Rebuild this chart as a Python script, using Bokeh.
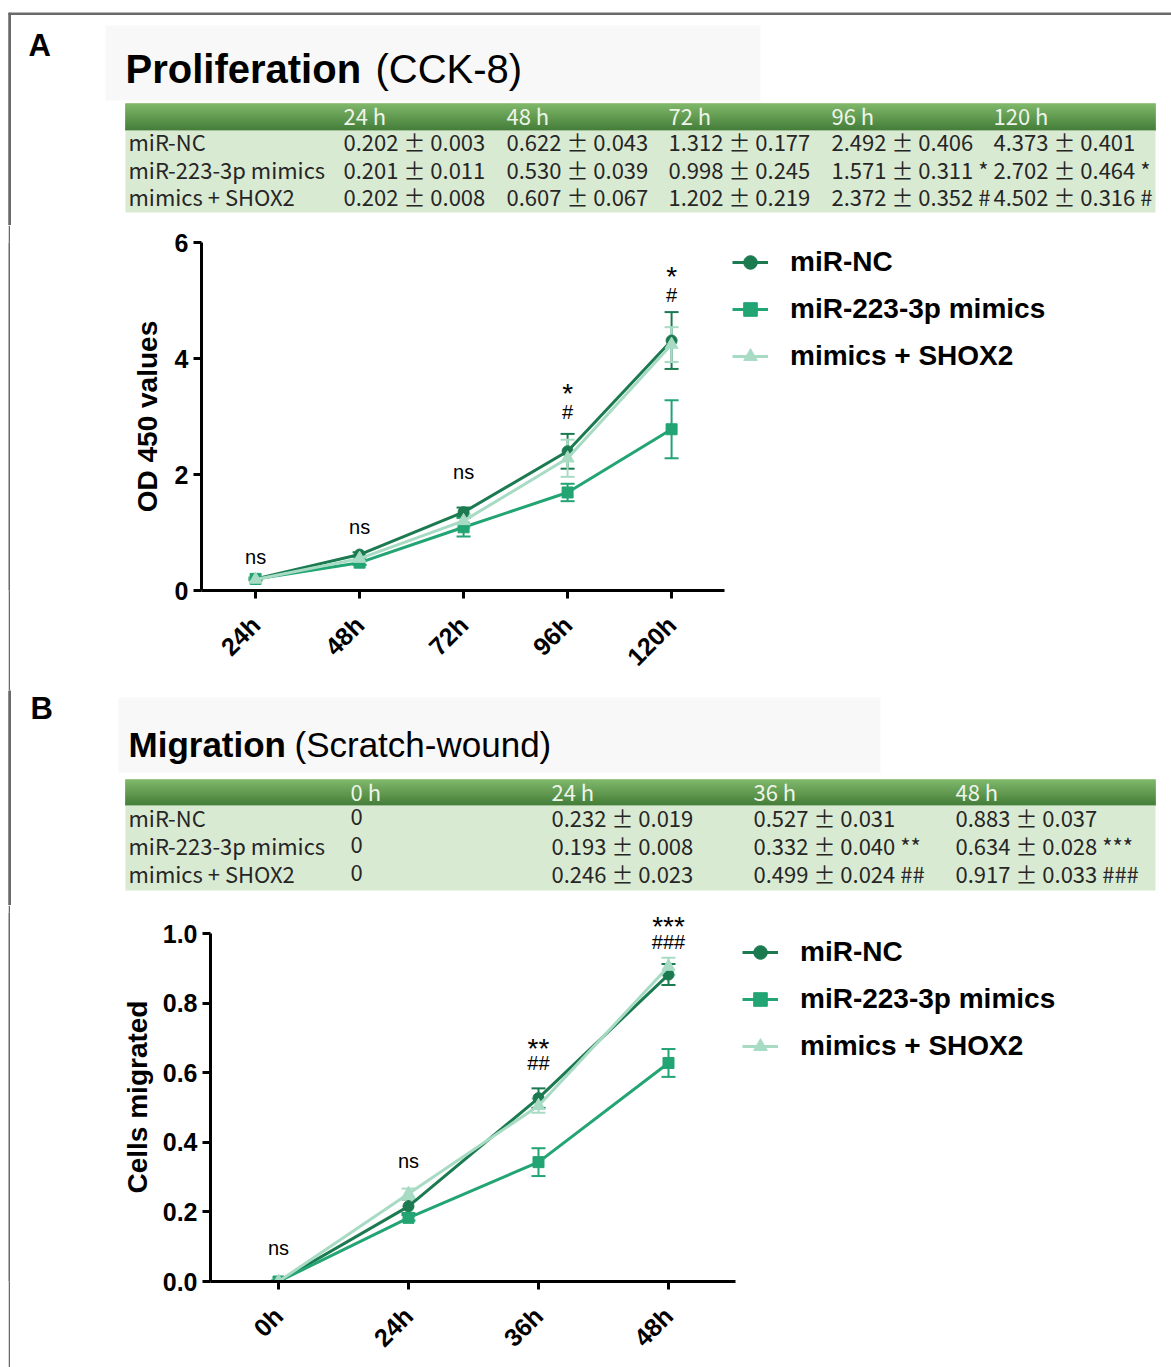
import numpy as np
from bokeh.plotting import figure
from bokeh.models import (Range1d, FixedTicker, Whisker, TeeHead, ColumnDataSource,
                          Legend, LegendItem, PrintfTickFormatter, Spacer)
from bokeh.layouts import row
from bokeh.core.properties import value
from bokeh.embed import file_html
from bokeh.resources import INLINE

# ---------------- data ----------------
groups = ["miR-NC", "miR-223-3p mimics", "mimics + SHOX2"]

# Panel A table: CCK-8 OD450, mean ± SD
tabA_times = ["24 h", "48 h", "72 h", "96 h", "120 h"]
tabA_nc_mean = [0.202, 0.622, 1.312, 2.492, 4.373]
tabA_nc_sd = [0.003, 0.043, 0.177, 0.406, 0.401]
tabA_nc_mark = ["", "", "", "", ""]
tabA_mim_mean = [0.201, 0.530, 0.998, 1.571, 2.702]
tabA_mim_sd = [0.011, 0.039, 0.245, 0.311, 0.464]
tabA_mim_mark = ["", "", "", "*", "*"]
tabA_shox_mean = [0.202, 0.607, 1.202, 2.372, 4.502]
tabA_shox_sd = [0.008, 0.067, 0.219, 0.352, 0.316]
tabA_shox_mark = ["", "", "", "#", "#"]

# Panel A chart
chartA_labels = ["24h", "48h", "72h", "96h", "120h"]
chartA_nc = [0.20, 0.62, 1.35, 2.40, 4.31]
chartA_nc_err = [0.02, 0.04, 0.08, 0.30, 0.49]
chartA_mim = [0.20, 0.48, 1.09, 1.69, 2.78]
chartA_mim_err = [0.02, 0.04, 0.16, 0.15, 0.50]
chartA_shox = [0.19, 0.55, 1.20, 2.28, 4.24]
chartA_shox_err = [0.02, 0.05, 0.12, 0.32, 0.30]
sigA_ns_x = [1, 2, 3]
sigA_ns = ["ns", "ns", "ns"]
sigA_ns_y = [0.57, 1.09, 2.04]
sigA_star_x = [4, 5]
sigA_star = ["*", "*"]
sigA_star_y = [3.39, 5.41]
sigA_hash_x = [4, 5]
sigA_hash = ["#", "#"]
sigA_hash_y = [3.08, 5.10]
yticksA = [0, 2, 4, 6]

# Panel B table: scratch-wound, cells migrated, mean ± SD
tabB_times = ["0 h", "24 h", "36 h", "48 h"]
tabB_nc_mean = [0, 0.232, 0.527, 0.883]
tabB_nc_sd = [None, 0.019, 0.031, 0.037]
tabB_nc_mark = ["", "", "", ""]
tabB_mim_mean = [0, 0.193, 0.332, 0.634]
tabB_mim_sd = [None, 0.008, 0.040, 0.028]
tabB_mim_mark = ["", "", "**", "***"]
tabB_shox_mean = [0, 0.246, 0.499, 0.917]
tabB_shox_sd = [None, 0.023, 0.024, 0.033]
tabB_shox_mark = ["", "", "##", "###"]

# Panel B chart
chartB_labels = ["0h", "24h", "36h", "48h"]
chartB_nc = [0.0, 0.216, 0.527, 0.882]
chartB_nc_err = [0.004, 0.020, 0.028, 0.030]
chartB_mim = [0.0, 0.183, 0.343, 0.628]
chartB_mim_err = [0.004, 0.008, 0.040, 0.040]
chartB_shox = [0.0, 0.252, 0.505, 0.905]
chartB_shox_err = [0.004, 0.015, 0.020, 0.025]
sigB_ns_x = [1, 2]
sigB_ns = ["ns", "ns"]
sigB_ns_y = [0.097, 0.345]
sigB_star_x = [3, 4]
sigB_star = ["**", "***"]
sigB_star_y = [0.670, 1.021]
sigB_hash_x = [3, 4]
sigB_hash = ["##", "###"]
sigB_hash_y = [0.629, 0.976]
yticksB = [0.0, 0.2, 0.4, 0.6, 0.8, 1.0]

# ---------------- style ----------------
C_NC = "#1b7a50"
C_MIM = "#22a473"
C_SHOX = "#a8dbc4"
SANS_NAME = "Liberation Sans"
SANS = value(SANS_NAME)
TABF = value("Noto Sans CJK SC")
BORDER = "#6a6a6a"
W = 1171
PAD = 8       # white gap left of the page border line
BW = 2        # border line width


def header_fig(h, top_border=False):
    p = figure(width=W, height=h, x_range=Range1d(0, W), y_range=Range1d(h, 0),
               x_axis_type=None, y_axis_type=None, output_backend="svg",
               toolbar_location=None, min_border=0)
    p.outline_line_color = None
    p.grid.visible = False
    y0 = 12.5 if top_border else 0
    p.quad(left=PAD + 0.3, right=PAD + BW, top=y0, bottom=h, color=BORDER)
    if top_border:
        p.quad(left=PAD + 0.3, right=W, top=12.5, bottom=14.0, color=BORDER)
    return p


def border_strip(h):
    s = figure(width=BW, height=h, x_range=Range1d(0, 1), y_range=Range1d(0, 1),
               x_axis_type=None, y_axis_type=None, output_backend="svg",
               toolbar_location=None, min_border=0)
    s.outline_line_color = None
    s.grid.visible = False
    s.background_fill_color = BORDER
    s.border_fill_color = BORDER
    return s


def fmt_cells(means, sds, marks):
    out = []
    for m, s, k in zip(means, sds, marks):
        t = f"{m:g}" if s is None else f"{m:.3f} ± {s:.3f}"
        if k:
            t += " " + k
        out.append(t)
    return out


def draw_table(p, x0, x1, yh0, yh1, yb1, label_x, col_x, times, rows):
    n = int(round(yh1 - yh0))
    top_c = np.array([120, 180, 98])
    bot_c = np.array([58, 118, 44])
    tops, bots, cols = [], [], []
    for i in range(n):
        f = i / max(n - 1, 1)
        c = (top_c * (1 - f) + bot_c * f).astype(int)
        tops.append(yh0 + i)
        bots.append(yh0 + i + 1)
        cols.append("#%02x%02x%02x" % tuple(c))
    p.quad(left=x0, right=x1, top=tops, bottom=bots, fill_color=cols, line_color=cols,
           line_width=0.5)
    p.quad(left=x0, right=x1, top=yh1, bottom=yb1, fill_color="#d9ead3", line_color=None)
    p.text(x=col_x, y=[(yh0 + yh1) / 2 - 2] * len(col_x), text=times, text_font=TABF,
           text_font_size="22px", text_color="#eef4ea", text_baseline="middle")
    rh = (yb1 - yh1) / len(rows)
    for i, (lab, cells) in enumerate(rows):
        yc = yh1 + rh * (i + 0.5) - 3
        p.text(x=[label_x] + list(col_x), y=[yc] * (len(col_x) + 1), text=[lab] + cells,
               text_font=TABF, text_font_size="22px", text_color="#262626",
               text_baseline="middle")


def chart_fig(h, left, top, bottom, xpx, ypx, x0, y0):
    w = W - PAD - BW
    frame_w = w - left
    frame_h = h - top - bottom
    p = figure(width=w, height=h, x_range=Range1d(x0, x0 + frame_w / xpx),
               y_range=Range1d(y0, y0 + frame_h / ypx), min_border_left=left,
               min_border_right=0, min_border_top=top, min_border_bottom=bottom,
               output_backend="svg", toolbar_location=None)
    p.outline_line_color = None
    p.grid.visible = False
    for ax in p.axis:
        ax.axis_line_width = 3
        ax.axis_line_color = "black"
        ax.major_tick_line_width = 3
        ax.major_tick_line_color = "black"
        ax.major_tick_out = 8
        ax.major_tick_in = 0
        ax.minor_tick_line_color = None
        ax.major_label_text_font = SANS_NAME
        ax.major_label_text_font_style = "bold"
        ax.major_label_text_font_size = "25px"
        ax.major_label_text_color = "black"
        ax.major_label_standoff = 5
        ax.axis_label_text_font = SANS_NAME
        ax.axis_label_text_font_style = "bold"
        ax.axis_label_text_font_size = "28px"
        ax.axis_label_text_color = "black"
    p.xaxis.major_label_standoff = 22
    p.xaxis.major_label_orientation = np.pi / 4
    return p


def add_series(p, ys, errs, color, marker, size):
    xs = list(range(1, len(ys) + 1))
    src = ColumnDataSource(dict(x=xs, y=ys, lo=[y - e for y, e in zip(ys, errs)],
                                hi=[y + e for y, e in zip(ys, errs)]))
    w = Whisker(source=src, base="x", lower="lo", upper="hi", line_color=color, line_width=2,
                upper_head=TeeHead(size=14, line_color=color, line_width=2),
                lower_head=TeeHead(size=14, line_color=color, line_width=2))
    p.add_layout(w)
    l = p.line("x", "y", source=src, line_color=color, line_width=3)
    s = p.scatter("x", "y", source=src, marker=marker, size=size, fill_color=color,
                  line_color=color)
    return l, s


def add_sig(p, xs, ys, texts, size):
    p.text(x=xs, y=ys, text=texts, text_font=SANS, text_font_size=size,
           text_color="black", text_align="center", text_baseline="alphabetic")


def add_legend(p, rends, loc):
    items = [LegendItem(label=g, renderers=list(r)) for g, r in zip(groups, rends)]
    lg = Legend(items=items, location=loc, glyph_width=36, glyph_height=34, label_height=34,
                label_standoff=22, spacing=13, padding=0, margin=0, border_line_color=None,
                background_fill_alpha=0, label_text_font=SANS_NAME,
                label_text_font_style="bold", label_text_font_size="28px",
                label_text_color="black")
    p.add_layout(lg)


# ---------------- Panel A header (page y 0..225) ----------------
f1 = header_fig(225, top_border=True)
f1.quad(left=105, right=760, top=25, bottom=100, color="#f8f8f8", line_color=None)
f1.text(x=[28], y=[45], text=["A"], text_font=SANS, text_font_style="bold",
        text_font_size="31px", text_color="black", text_baseline="alphabetic")
f1.text(x=[125], y=[68], text=["Proliferation"], text_font=SANS, text_font_style="bold",
        text_font_size="40px", text_color="black", text_baseline="alphabetic")
f1.text(x=[375], y=[68], text=["(CCK-8)"], text_font=SANS, text_font_size="40px",
        text_color="black", text_baseline="alphabetic")
draw_table(f1, 125, 1155, 103, 130, 212, 128, [343, 506, 668, 831, 993], tabA_times,
           [(groups[0], fmt_cells(tabA_nc_mean, tabA_nc_sd, tabA_nc_mark)),
            (groups[1], fmt_cells(tabA_mim_mean, tabA_mim_sd, tabA_mim_mark)),
            (groups[2], fmt_cells(tabA_shox_mean, tabA_shox_sd, tabA_shox_mark))])

# ---------------- Panel A chart (page y 225..690) ----------------
hA = 465
f2 = chart_fig(hA, 201 - PAD - BW, 17, 100, 104, 58, 0.48, 0.0)
f2.xaxis.ticker = FixedTicker(ticks=list(range(1, 6)))
f2.xaxis.major_label_overrides = {i + 1: lab for i, lab in enumerate(chartA_labels)}
f2.xaxis.bounds = (0.48, 5.51)
f2.yaxis.ticker = FixedTicker(ticks=yticksA)
f2.yaxis.bounds = (0, 6)
f2.yaxis.axis_label = "OD 450 values"
f2.yaxis.axis_label_standoff = 9
rA = [add_series(f2, chartA_nc, chartA_nc_err, C_NC, "circle", 11),
      add_series(f2, chartA_mim, chartA_mim_err, C_MIM, "square", 11),
      add_series(f2, chartA_shox, chartA_shox_err, C_SHOX, "triangle", 13)]
add_sig(f2, sigA_ns_x, sigA_ns_y, sigA_ns, "20px")
add_sig(f2, sigA_star_x, sigA_star_y, sigA_star, "28px")
add_sig(f2, sigA_hash_x, sigA_hash_y, sigA_hash, "20px")
add_legend(f2, rA, (531, 217))

# ---------------- Panel B header (page y 690..905) ----------------
f3 = header_fig(215)
f3.quad(left=118, right=880, top=7, bottom=82, color="#f8f8f8", line_color=None)
f3.text(x=[30], y=[18], text=["B"], text_font=SANS, text_font_style="bold",
        text_font_size="31px", text_color="black", text_baseline="alphabetic")
f3.text(x=[128], y=[54], text=["Migration"], text_font=SANS, text_font_style="bold",
        text_font_size="35px", text_color="black", text_baseline="alphabetic")
f3.text(x=[294], y=[54], text=["(Scratch-wound)"], text_font=SANS, text_font_size="35px",
        text_color="black", text_baseline="alphabetic")
draw_table(f3, 125, 1155, 89, 115, 200, 128, [350, 551, 753, 955], tabB_times,
           [(groups[0], fmt_cells(tabB_nc_mean, tabB_nc_sd, tabB_nc_mark)),
            (groups[1], fmt_cells(tabB_mim_mean, tabB_mim_sd, tabB_mim_mark)),
            (groups[2], fmt_cells(tabB_shox_mean, tabB_shox_sd, tabB_shox_mark))])

# ---------------- Panel B chart (page y 905..1367) ----------------
hB = 462
# frame spans page y 912..1281 (y = 0 at the bottom edge)
f4 = chart_fig(hB, 210 - PAD - BW, 7, 86, 130, 348, 0.477, 0.0)
f4.xaxis.ticker = FixedTicker(ticks=list(range(1, 5)))
f4.xaxis.major_label_overrides = {i + 1: lab for i, lab in enumerate(chartB_labels)}
f4.xaxis.bounds = (0.477, 4.515)
f4.yaxis.ticker = FixedTicker(ticks=yticksB)
f4.yaxis.formatter = PrintfTickFormatter(format="%.1f")
f4.yaxis.bounds = (0, 1)
f4.yaxis.axis_label = "Cells migrated"
f4.yaxis.axis_label_standoff = 7
rB = [add_series(f4, chartB_nc, chartB_nc_err, C_NC, "circle", 11),
      add_series(f4, chartB_mim, chartB_mim_err, C_MIM, "square", 11),
      add_series(f4, chartB_shox, chartB_shox_err, C_SHOX, "triangle", 13)]
add_sig(f4, sigB_ns_x, sigB_ns_y, sigB_ns, "20px")
add_sig(f4, sigB_star_x, sigB_star_y, sigB_star, "28px")
add_sig(f4, sigB_hash_x, sigB_hash_y, sigB_hash, "20px")
add_legend(f4, rB, (532, 218))

rowA = row(Spacer(width=PAD, height=hA), border_strip(hA), f2)
rowB = row(Spacer(width=PAD, height=hB), border_strip(hB), f4)

open("out.html", "w").write(file_html([f1, rowA, f3, rowB], INLINE))
